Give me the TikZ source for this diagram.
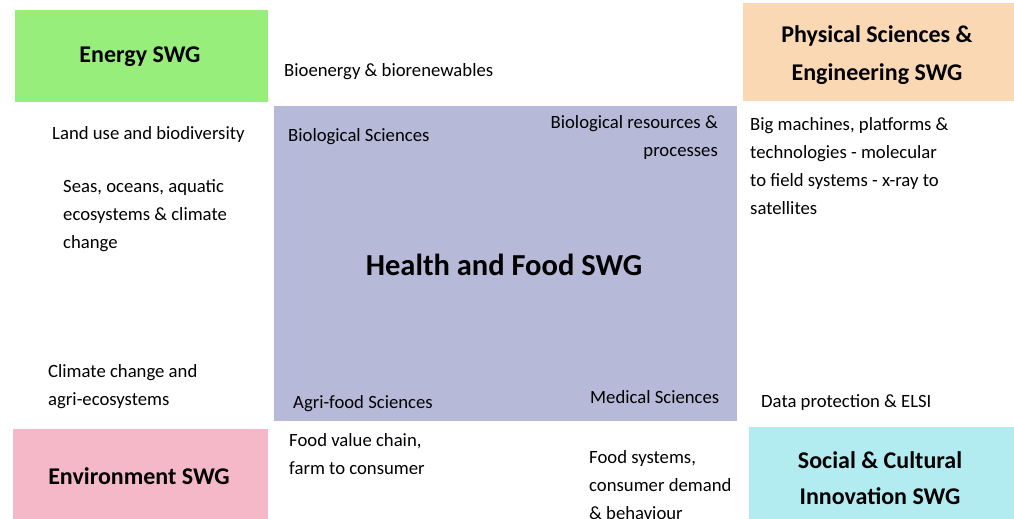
\documentclass[tikz,border=0pt]{standalone}
\usepackage{fontspec}
\setmainfont{Carlito}
\definecolor{cgreen}{RGB}{152,238,122}
\definecolor{cpeach}{RGB}{250,216,180}
\definecolor{cpink}{RGB}{245,184,200}
\definecolor{ccyan}{RGB}{178,236,240}
\definecolor{cblue}{RGB}{182,186,216}
\begin{document}
\begin{tikzpicture}[x=1pt,y=-1pt,
  title/.style={font=\fontsize{24}{36}\selectfont\bfseries,align=center,inner sep=0},
  lbl/.style={font=\fontsize{18.7}{28}\selectfont,align=left,inner sep=0,anchor=base west},
  lblr/.style={font=\fontsize{18.7}{28}\selectfont,align=right,inner sep=0,anchor=base east}]
\useasboundingbox (0,0) rectangle (1014,519);
\clip (0,0) rectangle (1014,519);
% boxes
\fill[cgreen] (15,10) rectangle (268,102);
\fill[cpeach] (743,3) rectangle (1014,101);
\fill[cpink] (13,429) rectangle (268,519);
\fill[ccyan] (749,427) rectangle (1014,519);
\fill[cblue] (274,106) rectangle (737,421);
% titles
\node[title] (energy) at (140,57) {Energy SWG};
\node[title,font=\fontsize{24}{38}\selectfont\bfseries] (phys) at (877,55) {Physical Sciences \&\\Engineering SWG};
\node[title] (env) at (139,476) {Environment SWG};
\node[title] (soc) at (880,478) {Social \& Cultural\\Innovation SWG};
\node[title,font=\fontsize{30.5}{36}\selectfont\bfseries] (health) at (504,265) {Health and Food SWG};
% labels (base = baseline of last line)
\node[lbl] (bio) at (284,76) {Bioenergy \& biorenewables};
\node[lbl] (land) at (52,139) {Land use and biodiversity};
\node[lbl] (seas) at (63,248) {Seas, oceans, aquatic\\ecosystems \& climate\\change};
\node[lbl] (clim) at (48,405) {Climate change and\\agri-ecosystems};
\node[lbl] (biosci) at (288,141) {Biological Sciences};
\node[lblr] (biores) at (718,156) {Biological resources \&\\processes};
\node[lbl] (big) at (750,214) {Big machines, platforms \&\\technologies - molecular\\to field systems - x-ray to\\satellites};
\node[lbl] (agri) at (293,408) {Agri-food Sciences};
\node[lbl] (med) at (590,403) {Medical Sciences};
\node[lbl] (data) at (761,407) {Data protection \& ELSI};
\node[lbl] (fvc) at (289,474) {Food value chain,\\farm to consumer};
\node[lbl] (fsys) at (589,519) {Food systems,\\consumer demand\\\& behaviour};
\end{tikzpicture}
\end{document}
